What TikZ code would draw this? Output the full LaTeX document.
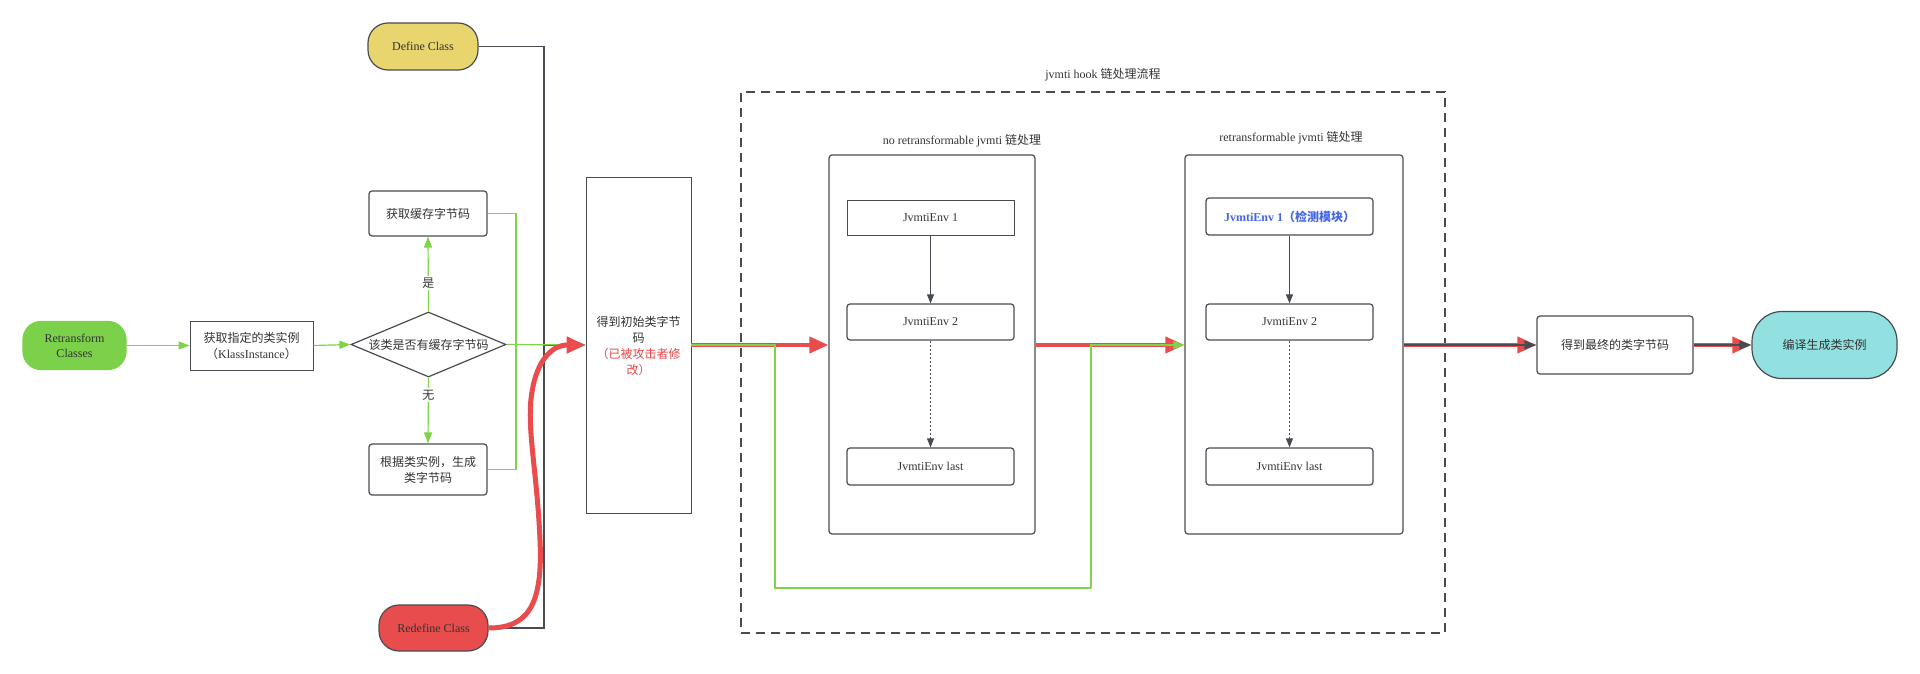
\documentclass[tikz,border=0pt]{standalone}
\usepackage{fontspec}
\setmainfont{Liberation Serif}
\newfontfamily\cjk{Noto Sans CJK SC}
\usetikzlibrary{arrows.meta,shapes.geometric}
\definecolor{ln}{HTML}{474C53}
\definecolor{txt}{HTML}{333333}
\definecolor{gfill}{HTML}{7BD14A}
\definecolor{gline}{HTML}{7ED348}
\definecolor{yfill}{HTML}{E8D56E}
\definecolor{rfill}{HTML}{E84C4C}
\definecolor{cfill}{HTML}{92E0E0}
\definecolor{bluet}{HTML}{4465E8}
\definecolor{redt}{HTML}{EE4444}
\begin{document}
\begin{tikzpicture}[x=1pt,y=-1pt,
  every node/.style={text=txt, font=\fontsize{12}{15}\selectfont, inner sep=0pt},
  pill/.style={draw=ln, line width=1.2pt, align=center},
  box/.style={draw=ln, line width=1.2pt, rounded corners=3pt, align=center, fill=white},
  sbox/.style={draw=ln, line width=0.8pt, align=center, fill=white},
  gline/.style={draw=gline, line width=1.2pt},
  garrow/.style={gline, -{Triangle[length=11pt,width=8pt]}},
  kline/.style={draw=ln, line width=1.2pt},
  karrow/.style={draw=ln, line width=1pt, -{Triangle[length=9pt,width=7pt]}},
  rarrow/.style={draw=rfill, line width=4pt, -{Triangle[length=19pt,width=16pt]}},
  darrow/.style={draw=ln, line width=1.2pt, -{Triangle[length=12pt,width=9pt]}},
  cn/.style={font=\cjk\fontsize{12}{16}\selectfont}
]
\useasboundingbox (0,0) rectangle (1920,674);

% outer dashed group
\node[draw=ln, line width=1.3pt, dash pattern=on 9pt off 6pt, minimum width=704pt, minimum height=541pt] (outer) at (1093,362.5) {};
\node (outert) at (1103,75) {jvmti hook {\cjk 链处理流程}};

% inner groups
\node[box, minimum width=206pt, minimum height=379pt] (nr) at (932,344.5) {};
\node (nrt) at (962,141) {no retransformable jvmti {\cjk 链处理}};
\node[box, minimum width=218pt, minimum height=379pt] (rt) at (1294,344.5) {};
\node (rtt) at (1291,138) {retransformable jvmti {\cjk 链处理}};

% env nodes
\node[sbox, minimum width=167pt, minimum height=35pt] (e1) at (930.5,217.5) {JvmtiEnv 1};
\node[box, minimum width=167pt, minimum height=36pt] (e2) at (930.5,322) {JvmtiEnv 2};
\node[box, minimum width=167pt, minimum height=37pt] (el) at (930.5,466.5) {JvmtiEnv last};
\node[box, minimum width=167pt, minimum height=37pt, text=bluet, font=\bfseries\fontsize{12}{15}\selectfont] (f1) at (1289.5,216.5) {JvmtiEnv 1{\cjk\bfseries （检测模块）}};
\node[box, minimum width=167pt, minimum height=36pt] (f2) at (1289.5,322) {JvmtiEnv 2};
\node[box, minimum width=167pt, minimum height=37pt] (fl) at (1289.5,466.5) {JvmtiEnv last};

\draw[karrow] (e1.south) -- (e2.north);
\draw[karrow, dash pattern=on 2pt off 2pt] (e2.south) -- (el.north);
\draw[karrow] (f1.south) -- (f2.north);
\draw[karrow, dash pattern=on 2pt off 2pt] (f2.south) -- (fl.north);

% left side nodes
\node[pill, fill=gfill, rounded corners=18pt, minimum width=103pt, minimum height=48pt, draw=gfill] (rc) at (74.5,345.5) {Retransform\\Classes};
\node[sbox, minimum width=123pt, minimum height=49pt, cn] (gi) at (251.5,345.5) {获取指定的类实例\\（{\rmfamily KlassInstance}）};
\node[draw=ln, line width=1.2pt, shape=diamond, minimum width=155pt, minimum height=65pt] (dia) at (428.5,344.5) {};
\node[cn] (diat) at (dia.center) {该类是否有缓存字节码};
\node[box, minimum width=118pt, minimum height=45pt, cn] (cache) at (428,213.5) {获取缓存字节码};
\node[box, minimum width=118pt, minimum height=51pt, cn] (gen) at (428,469.5) {根据类实例，生成\\类字节码};
\node[pill, fill=yfill, rounded corners=20pt, minimum width=110pt, minimum height=47pt] (def) at (423,46.5) {Define Class};
\node[pill, fill=rfill, rounded corners=20pt, minimum width=109pt, minimum height=46pt] (rdf) at (433.5,628) {Redefine Class};
\node[sbox, minimum width=105pt, minimum height=336pt] (init) at (638.5,345) {};
\node[cn, align=center] (initt) at (638.5,346) {得到初始类字节\\码\\\textcolor{redt}{（已被攻击者修}\\\textcolor{redt}{改）}};

% right nodes
\node[box, minimum width=156pt, minimum height=58pt, cn] (fin) at (1615,345) {得到最终的类字节码};
\node[pill, fill=cfill, rounded corners=30pt, minimum width=145pt, minimum height=67pt, cn] (cmp) at (1824.5,345) {编译生成类实例};

% grey connectors from Define / Redefine
\coordinate (kj) at (544,345);
\draw[kline] (def.east) -| (kj);
\draw[kline] (rdf.east) -| (kj);
\draw[darrow] (kj) -- (init.west);

% green connectors
\coordinate (gj) at (516,345);
\draw[garrow] (rc.east) -- (gi.west);
\draw[garrow] (gi.east) -- (dia.west);
\draw[garrow] (dia.north) -- node[pos=0.38, fill=white, inner sep=2pt, cn]{是} (cache.south);
\draw[garrow] (dia.south) -- node[pos=0.27, fill=white, inner sep=2pt, cn]{无} (gen.north);
\draw[gline] (cache.east) -| (gj);
\draw[gline] (gen.east) -| (gj);
\draw[garrow] (dia.east) -- (init.west);

% red curve from Redefine
\draw[draw=rfill, line width=5pt, -{Triangle[length=19pt,width=16pt]}] (rdf.east) .. controls (528,628) and (543,605) .. (540,540) .. controls (537,470) and (526,425) .. (532,392) .. controls (537,360) and (552,345) .. (init.west);

% red main flow
\draw[rarrow] (init.east) -- (nr.west |- init.east);
\draw[rarrow] (nr.east |- init.east) -- (rt.west |- init.east);

% green bypass
\coordinate (b1) at (775,345);
\coordinate (b2) at (1091,588);
\draw[gline] (init.east) -- (b1) |- (b2);
\draw[garrow] (b2) |- (rt.west |- init.east);

% final arrows
\draw[rarrow] (rt.east |- fin.west) -- (fin.west);
\draw[darrow] (rt.east |- fin.west) -- (fin.west);
\draw[rarrow] (fin.east) -- (cmp.west);
\draw[darrow] (fin.east) -- (cmp.west);
\end{tikzpicture}
\end{document}
